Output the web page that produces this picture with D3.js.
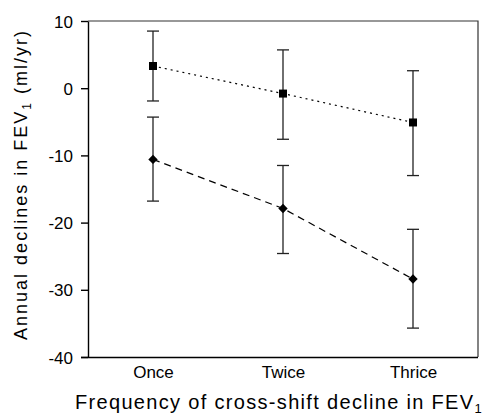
<!DOCTYPE html>
<html lang="en">
  <head>
    <meta charset="utf-8">
    <script src="https://d3js.org/d3.v7.min.js"></script>
    <style>
    body { margin: 0; background: #fff; }
    text { font-family: "Liberation Sans", Arial, sans-serif; fill: #000; }
    </style>
  </head>
  <body>
    <div id="place"></div>
    <script type="text/javascript">
    // values
    var categories = ["Once", "Twice", "Thrice"];
    var yTicks = [10, 0, -10, -20, -30, -40];

    // square markers, dotted line
    var squareMean = [3.3, -0.8, -5.1];
    var squareLow = [-1.9, -7.6, -13.0];
    var squareHigh = [8.5, 5.7, 2.6];

    // diamond markers, dashed line
    var diamondMean = [-10.6, -17.9, -28.4];
    var diamondLow = [-16.8, -24.6, -35.7];
    var diamondHigh = [-4.3, -11.5, -21.0];

    var width = 484, height = 415;
    var margin = { top: 21, left: 88, bottom: 58, right: 6 };
    var innerW = width - margin.left - margin.right;
    var innerH = height - margin.top - margin.bottom;

    var svg = d3.select('#place').append('svg')
      .attr('width', width)
      .attr('height', height);
    var g = svg.append('g')
      .attr('transform', 'translate(' + margin.left + ',' + margin.top + ')');

    var xScale = d3.scalePoint()
      .domain(categories)
      .range([0, innerW])
      .padding(0.5);

    var yScale = d3.scaleLinear()
      .domain([-40, 10])
      .range([innerH, 0]);

    // stretch a label with letter spacing so it covers the given width
    function fitWidth(sel, target) {
      var n = sel.text().length;
      var len = sel.node().getComputedTextLength();
      sel.style('letter-spacing', ((target - len) / n) + 'px');
    }

    // frame top and right
    g.append('path')
      .attr('d', 'M0,0H' + innerW + 'V' + innerH)
      .attr('fill', 'none')
      .attr('stroke', '#333')
      .attr('stroke-width', 1.2);

    // Y axis
    var yAxis = g.append('g')
      .call(d3.axisLeft(yScale).tickValues(yTicks).tickFormat(function(d) { return String(d); })
        .tickSize(7).tickSizeOuter(0).tickPadding(8));
    yAxis.select('.domain').attr('stroke-width', 1.4);
    yAxis.selectAll('.tick line').attr('stroke-width', 1.4);
    yAxis.selectAll('text').style('font-size', '17px').attr('font-family', null).attr('dy', '0.36em');

    // X axis
    var xAxis = g.append('g')
      .attr('transform', 'translate(0,' + innerH + ')')
      .call(d3.axisBottom(xScale).tickSize(0).tickPadding(9));
    xAxis.select('.domain').attr('d', 'M-7,0.5H' + innerW).attr('stroke-width', 1.4);
    xAxis.selectAll('text').style('font-size', '17px').attr('font-family', null);

    function drawSeries(mean, low, high, dash, marker) {
      var pts = categories.map(function(c, i) {
        return { cat: c, mean: mean[i], low: low[i], high: high[i] };
      });

      var line = d3.line()
        .x(function(d) { return xScale(d.cat); })
        .y(function(d) { return yScale(d.mean); });

      g.append('path')
        .datum(pts)
        .attr('fill', 'none')
        .attr('stroke', '#000')
        .attr('stroke-width', 1.2)
        .attr('stroke-dasharray', dash)
        .attr('d', line);

      var bars = g.append('g').selectAll('g')
        .data(pts)
        .enter().append('g')
        .attr('stroke', '#222')
        .attr('stroke-width', 1.3);

      bars.append('line')
        .attr('x1', function(d) { return xScale(d.cat); })
        .attr('x2', function(d) { return xScale(d.cat); })
        .attr('y1', function(d) { return yScale(d.low); })
        .attr('y2', function(d) { return yScale(d.high); });
      bars.append('line')
        .attr('x1', function(d) { return xScale(d.cat) - 6; })
        .attr('x2', function(d) { return xScale(d.cat) + 6; })
        .attr('y1', function(d) { return yScale(d.high); })
        .attr('y2', function(d) { return yScale(d.high); });
      bars.append('line')
        .attr('x1', function(d) { return xScale(d.cat) - 6; })
        .attr('x2', function(d) { return xScale(d.cat) + 6; })
        .attr('y1', function(d) { return yScale(d.low); })
        .attr('y2', function(d) { return yScale(d.low); });

      var sym = marker === 'square'
        ? d3.symbol().type(d3.symbolSquare).size(64)
        : d3.symbol().type(d3.symbolDiamond2).size(56);

      g.append('g').selectAll('path')
        .data(pts)
        .enter().append('path')
        .attr('transform', function(d) {
          return 'translate(' + xScale(d.cat) + ',' + yScale(d.mean) + ')';
        })
        .attr('d', sym)
        .attr('fill', '#000');
    }

    drawSeries(squareMean, squareLow, squareHigh, '2,4', 'square');
    drawSeries(diamondMean, diamondLow, diamondHigh, '7,5', 'diamond');

    // Label for Y axis
    var yLabel = svg.append('text')
      .attr('transform', 'translate(27,340) rotate(-90)')
      .style('text-anchor', 'start')
      .style('font-size', '18px');
    yLabel.append('tspan').text('Annual declines in FEV');
    yLabel.append('tspan').attr('dy', 4).style('font-size', '12px').text('1');
    yLabel.append('tspan').attr('dy', -4).text(' (ml/yr)');
    fitWidth(yLabel, 311);

    // Label for X axis
    var xLabel = svg.append('text')
      .attr('x', 75)
      .attr('y', 409)
      .style('text-anchor', 'start')
      .style('font-size', '20px');
    xLabel.append('tspan').text('Frequency of cross-shift decline in FEV');
    xLabel.append('tspan').attr('dy', 4).style('font-size', '13px').text('1');
    fitWidth(xLabel, 408);
    </script>
  </body>
</html>
